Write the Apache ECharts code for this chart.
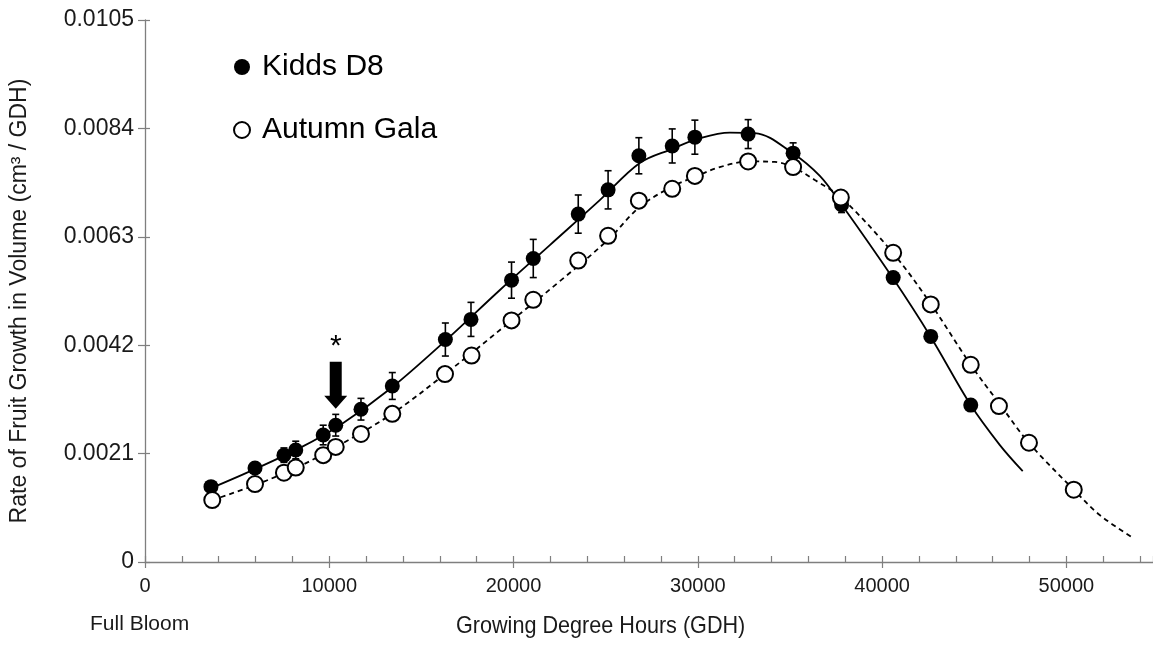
<!DOCTYPE html>
<html>
<head>
<meta charset="utf-8">
<title>Rate of Fruit Growth in Volume</title>
<script src="https://cdn.jsdelivr.net/npm/echarts@6/dist/echarts.min.js"></script>
<style>
  html, body { margin: 0; padding: 0; background: #ffffff; }
  #chart { width: 1153px; height: 651px; }
</style>
</head>
<body>
<div id="chart"></div>
<script>
// Observed fruit growth rate (cm3 per growing degree hour), means with SE
const kiddsX = [3580, 5970, 7540, 8180, 9670, 10350, 11720, 13420, 16300, 17690, 19890, 21070,
  23510, 25130, 26800, 28610, 29840, 32730, 35170, 37800, 40600, 42640, 44810];
const kiddsY = [0.00146, 0.00182, 0.00207, 0.00217, 0.00246, 0.00265, 0.00296, 0.00341, 0.00431,
  0.00470, 0.00546, 0.00588, 0.00674, 0.00721, 0.00787, 0.00806, 0.00823, 0.00829, 0.00792,
  0.00692, 0.00551, 0.00437, 0.00304];
const kiddsErr = [0.00006, 0.00008, 0.00014, 0.00017, 0.00019, 0.00021, 0.00021, 0.00026, 0.00032,
  0.00033, 0.00035, 0.00037, 0.00037, 0.00037, 0.00035, 0.00033, 0.00033, 0.00028, 0.00020,
  0.00015, 0.00006, 0.00006, 0.00006];

const galaX = [3650, 5970, 7540, 8180, 9670, 10350, 11720, 13420, 16280, 17720, 19890, 21070,
  23510, 25130, 26800, 28610, 29840, 32730, 35170, 37760, 40600, 42640, 44810, 46340, 47970, 50400];
const galaY = [0.00120, 0.00151, 0.00173, 0.00183, 0.00207, 0.00223, 0.00248, 0.00287, 0.00364,
  0.00400, 0.00468, 0.00508, 0.00584, 0.00632, 0.00700, 0.00723, 0.00748, 0.00776, 0.00765,
  0.00706, 0.00599, 0.00499, 0.00382, 0.00302, 0.00231, 0.00140];

// Fitted growth curves
const kiddsFitX = [3580, 5970, 8410, 10580, 13290, 16280, 19260, 21970, 24680, 26850, 28590,
  30110, 31740, 33090, 35150, 36620, 37810, 40580, 42640, 44810, 46380, 47630];
const kiddsFitY = [0.00143, 0.00180, 0.00221, 0.00265, 0.00335, 0.00428, 0.00527, 0.00614,
  0.00701, 0.00773, 0.00800, 0.00821, 0.00832, 0.00831, 0.00792, 0.00748, 0.00692, 0.00550,
  0.00436, 0.00304, 0.00227, 0.00176];

const galaFitX = [3650, 5970, 8410, 10580, 13400, 16280, 19800, 22510, 25120, 26850, 28590,
  29840, 31190, 32820, 34180, 35150, 36350, 37810, 40580, 42640, 44810, 46380, 47960, 50400,
  51810, 53600];
const galaFitY = [0.00120, 0.00149, 0.00186, 0.00227, 0.00287, 0.00364, 0.00465, 0.00544,
  0.00624, 0.00688, 0.00727, 0.00746, 0.00765, 0.00776, 0.00775, 0.00765, 0.00740, 0.00705,
  0.00599, 0.00500, 0.00382, 0.00306, 0.00231, 0.00140, 0.00091, 0.00047];

// Axis ticks
const yTicks = [0, 0.0021, 0.0042, 0.0063, 0.0084, 0.0105];
const xMajorStep = 10000;
const xMinorStep = 2000;
const xMax = 54700;

// Sample where the significant difference begins
const markedIndex = 5;

const FONT = "'Liberation Sans', Arial, sans-serif";
const AXIS_GRAY = '#7f7f7f';
const TEXT = '#1a1a1a';

const zip = (xs, ys) => xs.map((x, i) => [x, ys[i]]);

const chart = echarts.init(document.getElementById('chart'), null, { renderer: 'canvas' });

const option = {
  backgroundColor: '#ffffff',
  animation: false,
  grid: { left: 145, right: 0, top: 20, bottom: 89, containLabel: false, outerBoundsMode: 'none' },
  legend: {
    data: ['Kidds D8', 'Autumn Gala'],
    orient: 'vertical',
    left: 228,
    top: 45,
    itemWidth: 16,
    itemHeight: 16,
    itemGap: 29,
    selectedMode: false,
    textStyle: { fontFamily: FONT, fontSize: 30, color: '#000', lineHeight: 34, padding: [0, 0, 0, 7] }
  },
  xAxis: [
    {
      type: 'value', min: 0, max: xMax, interval: xMajorStep,
      axisLine: { show: true, lineStyle: { color: AXIS_GRAY, width: 1.3 } },
      axisTick: { show: true, inside: false, length: 6, lineStyle: { color: AXIS_GRAY, width: 1.2 } },
      axisLabel: {
        showMaxLabel: false, margin: 14, fontFamily: FONT, fontSize: 20, color: TEXT,
        formatter: v => String(v)
      },
      splitLine: { show: false }
    },
    {
      type: 'value', min: 0, max: xMax, interval: xMinorStep, position: 'bottom',
      axisLine: { show: false },
      axisTick: { show: true, inside: true, length: 6, lineStyle: { color: AXIS_GRAY, width: 1.2 } },
      axisLabel: { show: false },
      splitLine: { show: false }
    }
  ],
  yAxis: [
    {
      type: 'value', min: yTicks[0], max: yTicks[yTicks.length - 1], interval: yTicks[1] - yTicks[0],
      axisLine: { show: true, lineStyle: { color: AXIS_GRAY, width: 1.3 } },
      axisTick: { show: true, inside: false, length: 7, lineStyle: { color: AXIS_GRAY, width: 1.2 } },
      axisLabel: {
        margin: 11, fontFamily: FONT, fontSize: 23, color: TEXT,
        formatter: v => (v === 0 ? '0' : v.toFixed(4))
      },
      splitLine: { show: false }
    },
    {
      type: 'value', min: yTicks[0], max: yTicks[yTicks.length - 1], interval: yTicks[1] - yTicks[0],
      position: 'left',
      axisLine: { show: false },
      axisTick: { show: true, inside: true, length: 5, lineStyle: { color: AXIS_GRAY, width: 1.2 } },
      axisLabel: { show: false },
      splitLine: { show: false }
    }
  ],
  graphic: [
    {
      type: 'text', x: 20, y: 301, rotation: Math.PI / 2,
      style: {
        text: 'Rate of Fruit Growth in Volume (cm\u00B3 / GDH)',
        font: '23px ' + FONT, fill: TEXT, align: 'center', verticalAlign: 'middle'
      }
    },
    {
      type: 'text', x: 90, y: 624,
      style: { text: 'Full Bloom', font: '21px ' + FONT, fill: TEXT, align: 'left', verticalAlign: 'middle' }
    },
    {
      type: 'text', x: 456, y: 626, scaleX: 0.9,
      style: { text: 'Growing Degree Hours (GDH)', font: '24px ' + FONT, fill: TEXT, align: 'left', verticalAlign: 'middle' }
    }
  ],
  series: [
    {
      name: 'Kidds D8 fit', type: 'line', data: zip(kiddsFitX, kiddsFitY),
      smooth: 0.35, showSymbol: false, symbol: 'none', silent: true, z: 2,
      lineStyle: { color: '#000', width: 1.8, type: 'solid' }
    },
    {
      name: 'Autumn Gala fit', type: 'line', data: zip(galaFitX, galaFitY),
      smooth: 0.35, showSymbol: false, symbol: 'none', silent: true, z: 2,
      lineStyle: { color: '#000', width: 1.8, type: [5, 4] }
    },
    {
      name: 'Kidds D8 SE', type: 'custom', silent: true, z: 3,
      data: kiddsX.map((x, i) => [x, kiddsY[i] - kiddsErr[i], kiddsY[i] + kiddsErr[i]]),
      renderItem: function (params, api) {
        const lo = api.coord([api.value(0), api.value(1)]);
        const hi = api.coord([api.value(0), api.value(2)]);
        const cap = 3.5;
        const st = { stroke: '#000', lineWidth: 1.6 };
        return {
          type: 'group',
          children: [
            { type: 'line', shape: { x1: lo[0], y1: lo[1], x2: hi[0], y2: hi[1] }, style: st },
            { type: 'line', shape: { x1: hi[0] - cap, y1: hi[1], x2: hi[0] + cap, y2: hi[1] }, style: st },
            { type: 'line', shape: { x1: lo[0] - cap, y1: lo[1], x2: lo[0] + cap, y2: lo[1] }, style: st }
          ]
        };
      }
    },
    {
      name: 'Kidds D8', type: 'scatter', data: zip(kiddsX, kiddsY), z: 4,
      symbol: 'circle', symbolSize: 15,
      itemStyle: { color: '#000', borderColor: '#000', borderWidth: 0, opacity: 1 },
      markPoint: {
        silent: true,
        data: [{
          coord: [kiddsX[markedIndex], kiddsY[markedIndex]],
          symbol: 'path://M5.5,0 L17.5,0 L17.5,34 L23,34 L11.5,47 L0,34 L5.5,34 Z',
          symbolSize: [23, 47],
          symbolOffset: [0, -40],
          itemStyle: { color: '#000', opacity: 1 },
          label: {
            show: true, position: 'top', distance: 0, formatter: '*',
            fontFamily: FONT, fontSize: 30, color: '#000'
          }
        }]
      }
    },
    {
      name: 'Autumn Gala', type: 'scatter', data: zip(galaX, galaY), z: 5,
      symbol: 'circle', symbolSize: 16,
      itemStyle: { color: '#fff', borderColor: '#000', borderWidth: 2, opacity: 1 }
    }
  ]
};

chart.setOption(option);
</script>
</body>
</html>
